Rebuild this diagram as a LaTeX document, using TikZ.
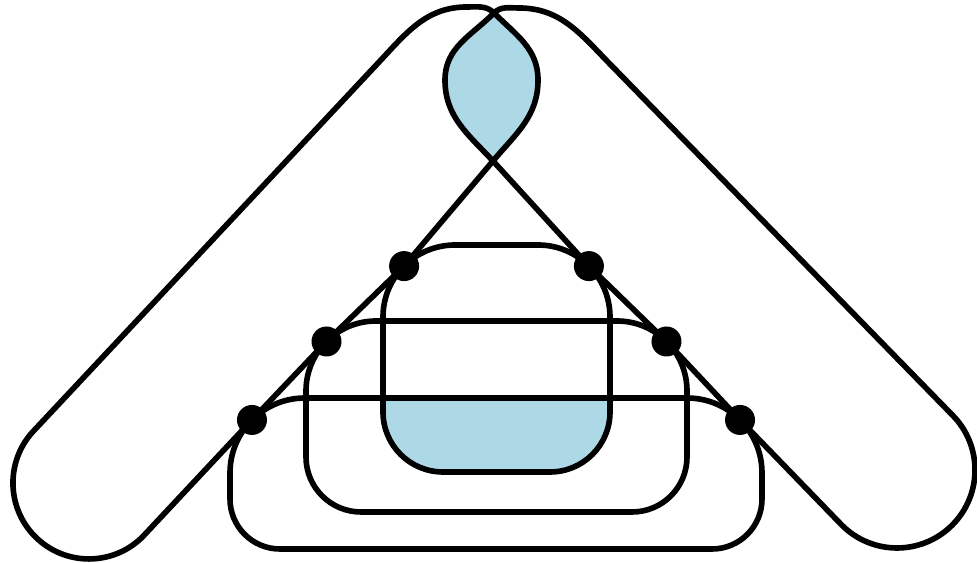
\documentclass[tikz,border=0pt]{standalone}
\usepackage{tikz}
\usetikzlibrary{calc, positioning}
\definecolor{LensBlue}{RGB}{173, 216, 230}
\definecolor{LoopBlack}{RGB}{0, 0, 0}

\begin{document}
\begin{tikzpicture}[x=0.02cm, y=0.02cm, line width=3.2pt, line join=round, color=LoopBlack]

    % --- Define geometry (pixel units) ---
    \def\capL{76}
    \def\capR{78}
    \def\dotRadius{15}
    % name / left / right / top / bottom / top corner / bottom corner
    \def\frames{one/383/610/318/91/72/60, two/306/687/242/51/70/55, three/230/762/165/14/75/50}

    \useasboundingbox (0,0) rectangle (977,563);

    % --- Crossing points of the two loops ---
    \coordinate (cross) at (494,550);
    \coordinate (pinch) at (493,402);

    % --- Corner points of the frames (where the dots sit) ---
    \foreach \name/\lx/\rx/\yt/\yb/\rt/\rb in \frames {
        \coordinate (\name-L) at ({\lx+0.293*\rt}, {\yt-0.293*\rt});
        \coordinate (\name-R) at ({\rx-0.293*\rt}, {\yt-0.293*\rt});
    }

    % --- Shaded regions (bottom layer) ---
    \fill[LensBlue] (cross) to[out=-45, in=90] (538,483) to[out=-90, in=50] (pinch)
        to[out=133, in=-90] (445,483) to[out=90, in=225] (cross);
    \begin{scope}
        \clip (0,0) rectangle (977,165);
        \fill[LensBlue] (383,151) arc[start angle=180, end angle=270, radius=60]
            -- (550,91) arc[start angle=-90, end angle=0, radius=60] -- (610,318) -- (383,318) -- cycle;
    \end{scope}

    % --- Left loop ---
    \draw (pinch) -- (one-L) -- (two-L) -- (three-L) -- (142.7,26.3)
        arc[start angle=-45, end angle=-225, radius=\capL] -- (380,502)
        to[out=47, in=180] (467,556) to[out=0, in=135] (cross)
        to[out=-45, in=90] (538,483) to[out=-90, in=50] (pinch);

    % --- Right loop ---
    \draw (pinch) -- (one-R) -- (two-R) -- (three-R) -- (841.85,37.85)
        arc[start angle=-135, end angle=45, radius=\capR] -- (607,502)
        to[out=134, in=0] (519,555) to[out=180, in=45] (cross)
        to[out=225, in=90] (445,483) to[out=-90, in=133] (pinch);

    % --- Frames ---
    \foreach \name/\lx/\rx/\yt/\yb/\rt/\rb in \frames {
        \draw (\lx, {\yt-\rt}) arc[start angle=180, end angle=90, radius=\rt]
            -- ({\rx-\rt}, \yt) arc[start angle=90, end angle=0, radius=\rt]
            -- (\rx, {\yb+\rb}) arc[start angle=0, end angle=-90, radius=\rb]
            -- ({\lx+\rb}, \yb) arc[start angle=270, end angle=180, radius=\rb] -- cycle;
    }

    % --- Dots ---
    \foreach \p in {one-L, one-R, two-L, two-R, three-L, three-R} {
        \fill (\p) circle (\dotRadius);
    }

\end{tikzpicture}
\end{document}
